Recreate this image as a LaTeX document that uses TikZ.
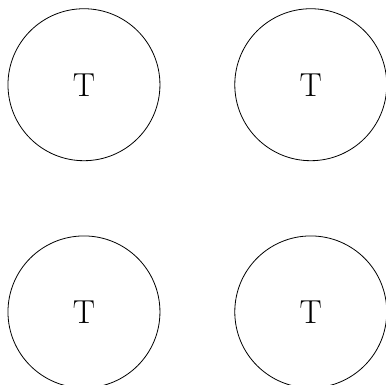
\documentclass[tikz,border=0pt]{standalone}
\begin{document}
\begin{tikzpicture}[
  tcircle/.style={draw, circle, minimum size=4cm, inner sep=0pt, line width=0.6pt, font=\Huge}
]
\useasboundingbox (0,0) rectangle (10.16,10.13);
\node[tcircle] (a) at (2.21,7.9) {T};
\node[tcircle] (b) at (8.18,7.9) {T};
\node[tcircle] (c) at (2.21,1.92) {T};
\node[tcircle] (d) at (8.18,1.92) {T};
\end{tikzpicture}
\end{document}
